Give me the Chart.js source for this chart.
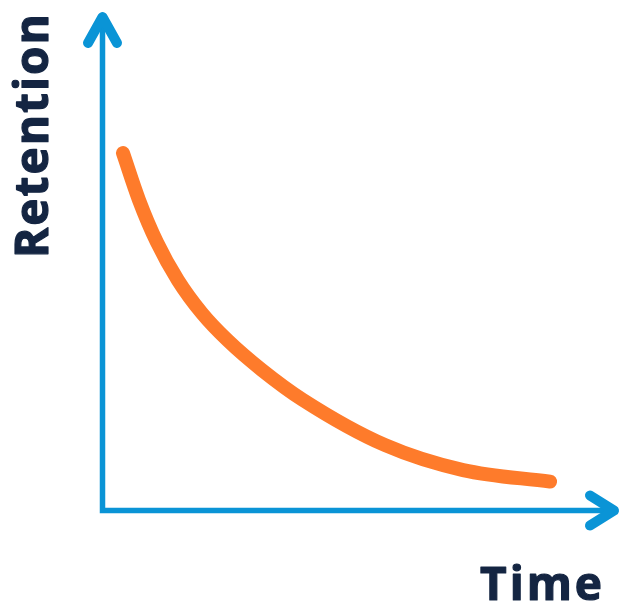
<!DOCTYPE html>
<html>
<head>
<meta charset="utf-8">
<script src="https://cdn.jsdelivr.net/npm/chart.js@4/dist/chart.umd.min.js"></script>
<style>
  html, body { margin: 0; padding: 0; background: #fff; }
</style>
</head>
<body>
<canvas id="chartRet" width="621" height="601"></canvas>
<script>
// forgetting curve (time 0-10, retention 0-100)
const time = [0.41, 0.73, 1.09, 1.51, 1.99, 2.51, 3.19, 4.01, 5.66, 7.22, 8.96];
const retention = [71.7, 62.3, 53.8, 46.2, 39.6, 34.1, 28.2, 22.2, 13.1, 8.1, 5.8];
const xTitle = 'Time';
const yTitle = 'Retention';

const blue = '#0a94d6';
const orange = '#fe7b2b';
const navy = '#142542';
const titleFont = 'bold 46px "Open Sans", "Noto Sans", sans-serif';

const axesPlugin = {
  id: 'arrowAxes',
  beforeDatasetsDraw(chart) {
    const ctx = chart.ctx;
    const area = chart.chartArea;
    const x0 = chart.scales.x.getPixelForValue(0);
    const y0 = chart.scales.y.getPixelForValue(0);
    const topTip = area.top + 5;
    const rightTip = area.right + 12;

    ctx.save();
    ctx.strokeStyle = blue;
    ctx.lineWidth = 5.5;
    ctx.lineCap = 'butt';
    ctx.beginPath();
    ctx.moveTo(x0, y0 + 2.75);
    ctx.lineTo(x0, topTip + 4);
    ctx.moveTo(x0 - 2.75, y0);
    ctx.lineTo(rightTip - 4, y0);
    ctx.stroke();

    ctx.lineWidth = 10;
    ctx.lineCap = 'round';
    ctx.lineJoin = 'round';
    ctx.beginPath();
    ctx.moveTo(x0 - 14.5, topTip + 26);
    ctx.lineTo(x0, topTip);
    ctx.lineTo(x0 + 14.5, topTip + 26);
    ctx.moveTo(rightTip - 24, y0 - 15);
    ctx.lineTo(rightTip, y0);
    ctx.lineTo(rightTip - 24, y0 + 15);
    ctx.stroke();
    ctx.restore();
  },
  afterDraw(chart) {
    const ctx = chart.ctx;
    ctx.save();
    ctx.fillStyle = navy;
    ctx.strokeStyle = navy;
    ctx.lineWidth = 1.2;
    ctx.lineJoin = 'round';
    ctx.font = titleFont;
    ctx.textBaseline = 'alphabetic';

    ctx.letterSpacing = '3px';
    ctx.textAlign = 'left';
    ctx.fillText(xTitle, 480, 600);
    ctx.strokeText(xTitle, 480, 600);

    ctx.letterSpacing = '2px';
    ctx.translate(48, 258);
    ctx.rotate(-Math.PI / 2);
    ctx.fillText(yTitle, 0, 0);
    ctx.strokeText(yTitle, 0, 0);
    ctx.restore();
  }
};

new Chart(document.getElementById('chartRet'), {
  type: 'line',
  data: {
    datasets: [{
      data: time.map((t, i) => ({x: t, y: retention[i]})),
      borderColor: orange,
      borderWidth: 14,
      borderCapStyle: 'round',
      borderJoinStyle: 'round',
      cubicInterpolationMode: 'monotone',
      pointRadius: 0,
      fill: false,
      clip: false
    }]
  },
  options: {
    responsive: false,
    animation: false,
    layout: {
      padding: {left: 102.5, right: 19, top: 12, bottom: 90.5}
    },
    plugins: {
      legend: {display: false},
      tooltip: {enabled: false}
    },
    scales: {
      x: {type: 'linear', min: 0, max: 10, display: false},
      y: {type: 'linear', min: 0, max: 100, display: false}
    }
  },
  plugins: [axesPlugin]
});
</script>
</body>
</html>
